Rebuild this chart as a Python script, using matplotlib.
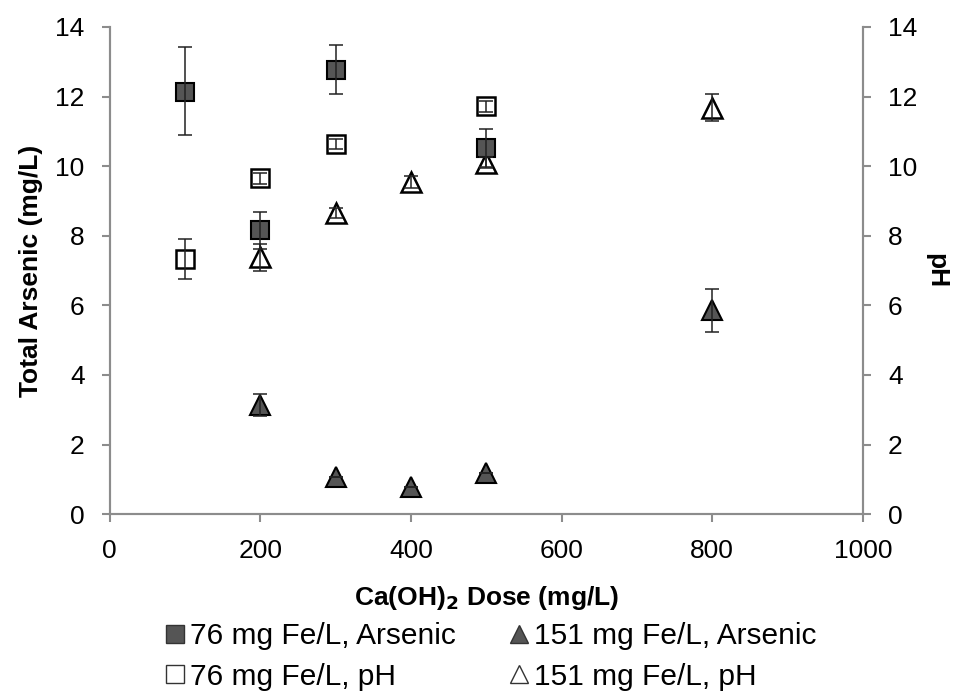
import numpy as np
import matplotlib.pyplot as plt
from matplotlib.lines import Line2D

plt.rcParams['font.family'] = ['Liberation Sans', 'DejaVu Sans']

# 76 mg Fe/L
dose_76 = [100, 200, 300, 500]
as_76 = [12.13, 8.16, 12.76, 10.52]
as_76_err = [[1.24, 0.53, 0.69, 0.55], [1.30, 0.53, 0.72, 0.55]]
ph_76 = [7.33, 9.65, 10.63, 11.72]
ph_76_err = [0.57, 0.15, 0.15, 0.15]

# 151 mg Fe/L
dose_151 = [200, 300, 400, 500, 800]
as_151 = [3.13, 1.06, 0.78, 1.18, 5.86]
as_151_err = [0.32, 0.0, 0.0, 0.0, 0.62]
ph_151 = [7.38, 8.65, 9.54, 10.10, 11.68]
ph_151_err = [0.38, 0.15, 0.18, 0.15, 0.38]

fill = '#555555'
gray = '#8c8c8c'

fig = plt.figure(figsize=(9.61, 6.92), dpi=100)
ax = fig.add_axes([0.114, 0.257, 0.784, 0.704])
ax2 = ax.twinx()

# markers first, error bars on top of them
mk = dict(ls='none', mec='black', zorder=2)
ax2.plot(dose_76, ph_76, marker='s', ms=13, mfc='white', mew=1.8, **mk)
ax2.plot(dose_151, ph_151, marker='^', ms=14.5, mfc='white', mew=1.8, **mk)
ax2.plot(dose_76, as_76, marker='s', ms=13, mfc=fill, mew=1.5, **mk)
ax2.plot(dose_151, as_151, marker='^', ms=14.5, mfc=fill, mew=1.5, **mk)

eb = dict(fmt='none', ecolor='#222222', elinewidth=1.1, capsize=5, capthick=1.1, zorder=3)
ax2.errorbar(dose_76, ph_76, yerr=ph_76_err, **eb)
ax2.errorbar(dose_151, ph_151, yerr=ph_151_err, **eb)
ax2.errorbar(dose_76, as_76, yerr=as_76_err, **eb)
ax2.errorbar(dose_151, as_151, yerr=as_151_err, **eb)

for a in (ax, ax2):
    a.set_xlim(0, 1000)
    a.set_ylim(0, 14)
    a.set_yticks(np.arange(0, 15, 2))
    a.spines['top'].set_visible(False)
    for s in a.spines.values():
        s.set_color(gray)
        s.set_linewidth(1.5)
    a.tick_params(colors=gray, labelcolor='black', labelsize=19, length=6, width=1.5,
                  direction='out', pad=12)

ax.set_xticks(np.arange(0, 1001, 200))
ax.set_xlabel('Ca(OH)$_\\mathbf{2}$ Dose (mg/L)', fontsize=19, fontweight='bold', labelpad=15)
ax.set_ylabel('Total Arsenic (mg/L)', fontsize=19, fontweight='bold', labelpad=9)
ax2.set_ylabel('pH', fontsize=19, fontweight='bold', rotation=270, labelpad=22)

handles = [
    Line2D([], [], ls='none', marker='s', ms=13, mfc=fill, mec='#333333'),
    Line2D([], [], ls='none', marker='s', ms=13, mfc='white', mec='#333333'),
    Line2D([], [], ls='none', marker='^', ms=13, mfc=fill, mec='#333333'),
    Line2D([], [], ls='none', marker='^', ms=13, mfc='white', mec='#333333'),
]
labels = ['76 mg Fe/L, Arsenic', '76 mg Fe/L, pH', '151 mg Fe/L, Arsenic', '151 mg Fe/L, pH']
fig.legend(handles, labels, ncol=2, loc='lower center', bbox_to_anchor=(0.511, -0.037),
           frameon=False, fontsize=21.5, handlelength=0.6, handletextpad=0.2,
           columnspacing=1.8, labelspacing=0.42)

fig.savefig('out.png', dpi=100)
